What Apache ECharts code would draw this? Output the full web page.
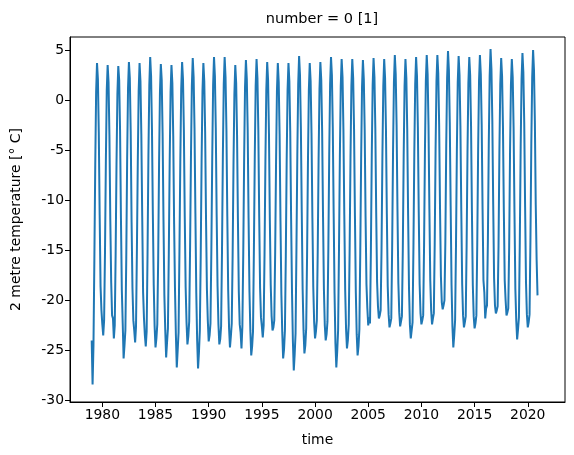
<!DOCTYPE html>
<html><head><meta charset="utf-8">
<script src="https://cdn.jsdelivr.net/npm/echarts@6/dist/echarts.min.js"></script>
<style>html,body{margin:0;padding:0;background:#fff}#c{width:574px;height:455px}</style>
</head><body><div id="c"></div>
<script>
const startYear = 1979;
const yearRows = [
[-24.0,-28.4,-24.5,-16.0,-6.5,0.8,3.7,2.1,-3.2,-11.5,-18.6,-21.0],
[-22.4,-23.5,-22.0,-15.2,-6.0,1.0,3.5,1.8,-3.5,-12.0,-18.2,-21.5],
[-21.8,-23.8,-22.5,-15.5,-6.3,0.6,3.4,2.0,-3.0,-11.8,-19.0,-22.3],
[-25.8,-24.5,-23.0,-15.8,-5.8,1.2,3.8,2.2,-3.1,-12.2,-18.8,-22.0],
[-23.0,-24.2,-22.6,-15.0,-6.2,0.9,3.7,1.9,-3.4,-11.6,-19.2,-21.8],
[-23.5,-24.6,-23.1,-15.4,-5.5,1.5,4.3,2.4,-2.9,-11.4,-18.5,-22.6],
[-24.7,-23.8,-22.4,-15.9,-6.4,0.7,3.6,2.0,-3.3,-12.0,-19.5,-23.0],
[-25.7,-24.2,-22.8,-15.3,-6.1,0.8,3.5,1.7,-3.6,-12.4,-19.0,-23.5],
[-26.7,-25.0,-23.2,-15.1,-5.9,1.1,3.8,2.1,-3.0,-11.7,-18.7,-22.2],
[-24.4,-23.6,-22.1,-14.8,-5.6,1.4,4.2,2.3,-2.8,-11.3,-19.3,-24.0],
[-26.8,-25.2,-23.0,-15.6,-6.0,0.9,3.7,1.9,-3.2,-11.9,-18.9,-22.0],
[-24.1,-23.5,-22.3,-15.0,-5.7,1.5,4.3,2.4,-2.8,-11.5,-18.6,-22.4],
[-24.4,-23.9,-22.6,-15.2,-5.5,1.6,4.3,2.3,-2.9,-11.6,-19.0,-22.8],
[-24.7,-23.6,-22.3,-15.6,-6.3,0.6,3.5,1.7,-3.5,-12.1,-19.2,-22.4],
[-23.2,-24.8,-22.6,-15.3,-5.8,1.3,4.0,2.1,-3.0,-11.8,-19.1,-23.0],
[-25.5,-24.6,-23.1,-15.0,-5.6,1.4,4.1,2.2,-3.0,-11.7,-18.8,-21.7],
[-22.6,-23.7,-22.5,-15.4,-6.0,1.0,3.8,2.0,-3.3,-12.0,-18.5,-21.6],
[-23.0,-22.7,-22.0,-15.2,-6.2,0.9,3.7,1.8,-3.4,-12.1,-19.4,-23.2],
[-25.8,-24.9,-23.0,-15.6,-5.9,1.0,3.7,1.9,-3.1,-11.9,-19.2,-24.1],
[-27.0,-25.4,-23.3,-14.9,-5.4,1.6,4.4,2.5,-2.7,-11.2,-18.9,-23.0],
[-25.3,-24.5,-22.8,-15.5,-6.1,1.0,3.7,1.9,-3.3,-11.8,-18.7,-22.2],
[-23.8,-23.1,-22.0,-15.2,-5.9,1.1,3.8,2.0,-3.1,-11.6,-18.9,-22.5],
[-24.0,-23.4,-22.1,-14.8,-5.3,1.6,4.3,2.5,-2.7,-11.3,-19.3,-24.3],
[-26.7,-25.1,-23.0,-15.0,-5.6,1.4,4.1,2.3,-2.9,-11.5,-19.0,-22.9],
[-24.8,-24.0,-22.4,-15.1,-5.7,1.4,4.1,2.2,-2.9,-11.6,-19.2,-23.4],
[-25.5,-24.6,-22.9,-15.3,-5.8,1.3,4.0,2.1,-3.0,-11.7,-18.4,-20.8],
[-22.5,-21.7,-22.3,-15.0,-5.4,1.5,4.2,2.3,-2.8,-11.3,-18.2,-20.6],
[-21.8,-21.5,-21.0,-14.9,-5.5,1.4,4.1,2.2,-2.9,-11.4,-18.6,-21.4],
[-22.7,-22.3,-21.8,-14.6,-5.0,1.8,4.5,2.6,-2.5,-11.0,-18.3,-21.2],
[-22.6,-22.1,-21.6,-15.0,-5.5,1.4,4.1,2.2,-2.9,-11.5,-18.8,-22.4],
[-23.8,-23.0,-22.2,-14.7,-5.2,1.6,4.3,2.4,-2.7,-11.2,-18.4,-21.3],
[-22.4,-22.0,-21.5,-14.5,-4.9,1.9,4.5,2.6,-2.5,-10.9,-18.0,-21.0],
[-22.4,-21.8,-21.3,-14.4,-4.8,1.9,4.5,2.7,-2.4,-10.8,-17.6,-20.2],
[-20.9,-20.5,-20.0,-14.2,-4.5,2.2,4.9,3.0,-2.2,-10.6,-18.5,-22.6],
[-24.7,-23.5,-22.0,-14.6,-5.0,1.8,4.4,2.5,-2.6,-11.1,-18.4,-21.5],
[-22.7,-22.2,-21.6,-14.6,-5.1,1.7,4.3,2.5,-2.6,-11.2,-18.5,-21.6],
[-22.8,-22.3,-21.5,-14.4,-4.9,1.9,4.5,2.6,-2.4,-10.9,-18.0,-19.2],
[-21.8,-20.8,-20.5,-14.0,-4.4,2.4,5.1,3.1,-2.0,-10.4,-17.8,-20.5],
[-21.3,-21.0,-20.6,-14.6,-5.0,1.6,4.2,2.4,-2.6,-11.1,-18.0,-20.0],
[-21.5,-21.2,-20.8,-14.7,-5.1,1.5,4.1,2.3,-2.7,-11.2,-18.9,-22.0],
[-23.9,-22.9,-21.7,-14.2,-4.6,2.1,4.7,2.8,-2.2,-10.7,-18.2,-21.4],
[-22.7,-22.2,-21.4,-14.0,-4.3,2.3,5.0,3.0,-2.1,-10.5,-16.0,-19.5]
];
const xTicks = [1980,1985,1990,1995,2000,2005,2010,2015,2020];
const yTicks = [-30,-25,-20,-15,-10,-5,0,5];

const data = [];
yearRows.forEach((row, i) => row.forEach((v, m) => data.push([startYear + i + m / 12, v])));

const font = 'DejaVu Sans';
const chart = echarts.init(document.getElementById('c'), null, {renderer: 'canvas'});
chart.setOption({
  animation: false,
  title: {text: 'number = 0 [1]', left: 317, top: 7, textAlign: 'center',
    textStyle: {fontFamily: font, fontSize: 14.5, fontWeight: 'normal', color: '#000'}},
  grid: {left: 70, right: 9, top: 37, bottom: 53},
  xAxis: {type: 'value', min: 1976.96, max: 2023.5, name: 'time', nameLocation: 'middle', nameGap: 31,
    nameTextStyle: {fontFamily: font, fontSize: 13.9, color: '#000'},
    axisLine: {onZero: false, lineStyle: {color: '#000'}}, splitLine: {show: false},
    axisTick: {customValues: xTicks, length: 5, lineStyle: {color: '#000'}},
    axisLabel: {customValues: xTicks, formatter: v => String(v), fontFamily: font, fontSize: 13.9, color: '#000', margin: 6}},
  yAxis: {type: 'value', min: -30.15, max: 6.3, name: '2 metre temperature [° C]', nameLocation: 'middle', nameGap: 47,
    nameTextStyle: {fontFamily: font, fontSize: 13.9, color: '#000'},
    axisLine: {show: true, onZero: false, lineStyle: {color: '#000'}}, splitLine: {show: false},
    axisTick: {show: true, customValues: yTicks, length: 5, lineStyle: {color: '#000'}},
    axisLabel: {customValues: yTicks, formatter: v => String(v), fontFamily: font, fontSize: 13.9, color: '#000', margin: 6}},
  series: [{type: 'line', data: data, showSymbol: false, lineStyle: {color: '#1f77b4', width: 2}}]
});
chart.getZr().add(new echarts.graphic.Rect({shape: {x: 70, y: 37, width: 495, height: 365},
  style: {fill: 'none', stroke: '#000', lineWidth: 1}, silent: true}));
</script></body></html>
